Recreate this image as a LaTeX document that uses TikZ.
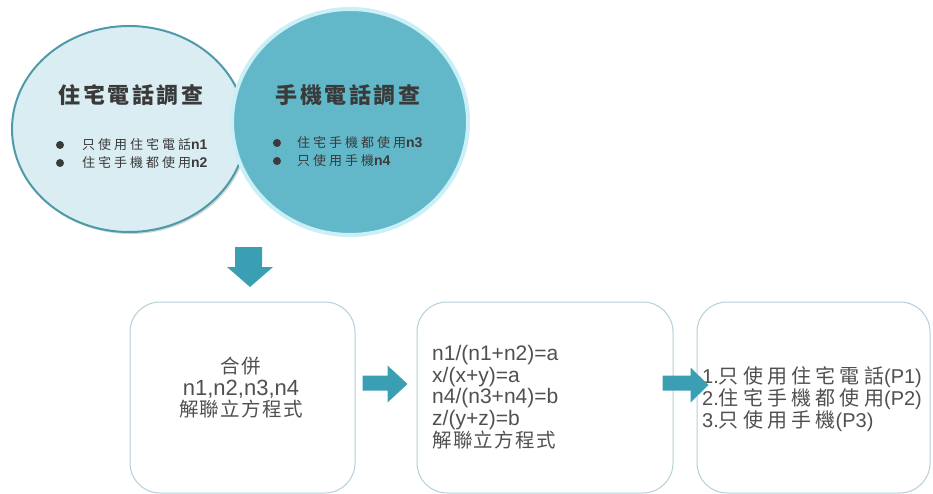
\documentclass[tikz,border=0pt]{standalone}
\usepackage{fontspec}
\setmainfont{Liberation Sans}
\newfontfamily\cjkTitle[LetterSpace=12]{Noto Sans CJK TC}
\newfontfamily\cjkBul[LetterSpace=23]{Noto Sans CJK TC}
\newfontfamily\cjkBox[LetterSpace=7]{Noto Sans CJK TC}
\newfontfamily\cjkWide[LetterSpace=21]{Noto Sans CJK TC}
\usetikzlibrary{shapes.geometric,calc}
\definecolor{ellL}{HTML}{DAEDF3}
\definecolor{ellLborder}{HTML}{4E9AA8}
\definecolor{ellR}{HTML}{62B8C9}
\definecolor{glow}{HTML}{CBEFF6}
\definecolor{arrowc}{HTML}{3A9FB3}
\definecolor{boxline}{HTML}{B3D0D8}
\definecolor{txtdark}{HTML}{3A3A3A}
\definecolor{txtbox}{HTML}{505050}
\tikzset{
  roundbox/.style={draw=boxline, line width=1pt, rounded corners=30pt, fill=white, minimum height=191, inner sep=0pt},
  blockarrow/.style={fill=arrowc},
  bullettext/.style={anchor=west, inner sep=0pt, text=txtdark, font=\fontsize{13}{13}\selectfont},
  boxtext/.style={inner sep=0pt, text=txtbox},
  boxcjk/.style={font=\fontsize{19.5}{19.5}\selectfont\cjkBox},
}
\begin{document}
\begin{tikzpicture}[x=1pt,y=-1pt]
\useasboundingbox (0,0) rectangle (933,494);
% ellipses
\node[ellipse, fill=ellLborder!60!black, opacity=0.25, minimum width=235, minimum height=207, inner sep=0pt] (homeshadow) at (130.5,130.5) {};
\node[ellipse, draw=ellLborder, line width=2pt, fill=ellL, minimum width=234, minimum height=206, inner sep=0pt] (home) at (129,129) {};
\node[ellipse, draw=glow, line width=4pt, fill=ellR, minimum width=236, minimum height=226, inner sep=0pt] (mobile) at (350,122) {};
% titles
\node[text=txtdark, inner sep=0pt, font=\fontsize{22}{22}\selectfont] (homeT) at (131,95) {\cjkTitle\bfseries 住宅電話調查};
\node[text=txtdark, inner sep=0pt, font=\fontsize{22}{22}\selectfont] (mobileT) at (348,95) {\cjkTitle\bfseries 手機電話調查};
% bullets
\fill[txtdark] (60,145) circle (4);
\fill[txtdark] (60,163) circle (4);
\node[bullettext] (b1) at (82,145) {{\cjkBul 只使用住宅電話}{\fontsize{14}{14}\selectfont\bfseries n1}};
\node[bullettext] (b2) at (82,163) {{\cjkBul 住宅手機都使用}{\fontsize{14}{14}\selectfont\bfseries n2}};
\fill[txtdark] (277,143) circle (4);
\fill[txtdark] (277,161) circle (4);
\node[bullettext] (b3) at (297,143) {{\cjkBul 住宅手機都使用}{\fontsize{14}{14}\selectfont\bfseries n3}};
\node[bullettext] (b4) at (297,161) {{\cjkBul 只使用手機}{\fontsize{14}{14}\selectfont\bfseries n4}};
% down arrow
\coordinate (down) at (248.5,247);
\fill[blockarrow, shift={(down)}] (-13.5,0) -- (13.5,0) -- (13.5,20) -- (24.5,20) -- (1.5,40) -- (-21.5,20) -- (-13.5,20) -- cycle;
% boxes
\node[roundbox, minimum width=225] (box1) at (242.5,397.5) {};
\node[roundbox, minimum width=256] (box2) at (545,397.5) {};
\node[roundbox, minimum width=233] (box3) at (813.5,397.5) {};
% box texts
\node[boxtext, align=center, font=\fontsize{21}{21.5}\selectfont] (t1) at (241,388) {{\fontsize{19.5}{19.5}\selectfont\cjkBox 合併}\\ {\fontsize{22}{21}\selectfont n1,n2,n3,n4}\\ {\fontsize{19.5}{19.5}\selectfont\cjkBox 解聯立方程式}};
\node[boxtext, align=left, anchor=west, font=\fontsize{21}{21.75}\selectfont] (t2) at (432,397) {n1/(n1+n2)=a\\ x/(x+y)=a\\ n4/(n3+n4)=b\\ z/(y+z)=b\\ {\fontsize{19.5}{19.5}\selectfont\cjkBox 解聯立方程式}};
\node[boxtext, align=left, anchor=west, font=\fontsize{20}{22}\selectfont] (t3) at (702,399) {1.{\cjkWide 只使用住宅電話}(P1)\\ 2.{\cjkWide 住宅手機都使用}(P2)\\ 3.{\cjkWide 只使用手機}(P3)};
% right arrows between boxes
\coordinate (a1) at ($(box1.east)+(7,-14.5)$);
\coordinate (a2) at ($(box2.east)+(-11,-14.5)$);
\fill[blockarrow, shift={(a1)}] (0,-7.5) -- (25,-7.5) -- (25,-17.5) -- (45,1) -- (25,19.5) -- (25,7.5) -- (0,7.5) -- cycle;
\fill[blockarrow, shift={(a2)}] (0,-7.5) -- (28,-7.5) -- (28,-15.5) -- (46,2) -- (28,19.5) -- (28,7.5) -- (0,7.5) -- cycle;
\end{tikzpicture}
\end{document}
